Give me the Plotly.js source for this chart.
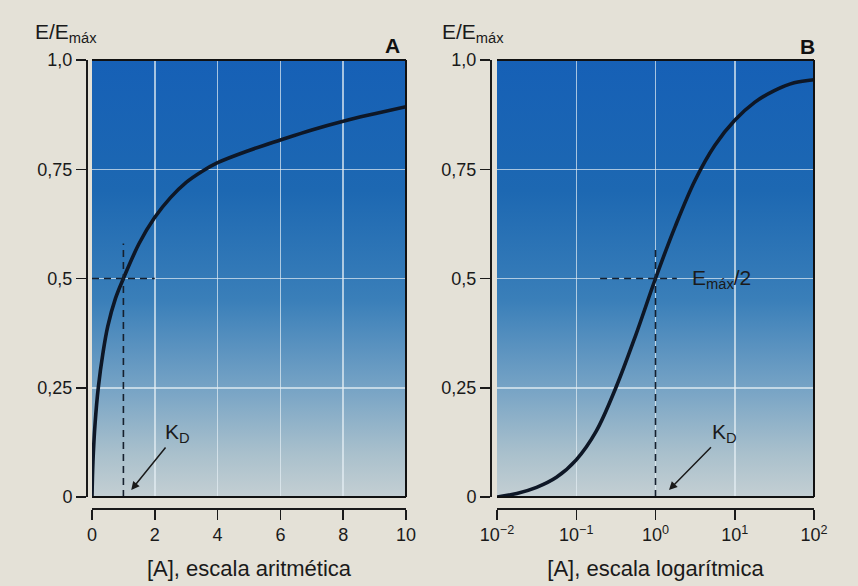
<!DOCTYPE html>
<html>
<head>
<meta charset="utf-8">
<script src="https://cdn.plot.ly/plotly-3.0.1.min.js"></script>
<style>html,body{margin:0;padding:0;background:#e4e1d7;}#chart{width:858px;height:586px;}</style>
</head>
<body>
<div id="chart"></div>
<script>
// ---- Data ----
// Panel A: arithmetic scale
const concA = [0, 0.03, 0.1, 0.2, 0.35, 0.5, 0.75, 1, 1.5, 2, 2.5, 3, 3.5, 4, 5, 6, 7, 8, 9, 10];
const effA  = [0, 0.08, 0.17, 0.25, 0.33, 0.39, 0.455, 0.50, 0.58, 0.64, 0.685, 0.72, 0.745, 0.765, 0.793, 0.817, 0.84, 0.86, 0.877, 0.893];
// Panel B: logarithmic scale
const concB = [0.01, 0.0178, 0.0316, 0.0562, 0.1, 0.178, 0.316, 0.562, 1, 1.78, 3.16, 5.62, 10, 17.8, 31.6, 56.2, 100];
const effB  = [0, 0.008, 0.022, 0.045, 0.085, 0.15, 0.25, 0.37, 0.50, 0.62, 0.725, 0.805, 0.862, 0.903, 0.93, 0.948, 0.955];
// Reference lines (K_D and E_max/2)
const kd = 1;
const halfEffect = 0.5;
const kdLineTopA = 0.58;
const kdLineTopB = 0.57;
const halfLineA = [0, 2];
const halfLineB = [0.2, 1.86];
// Ticks
const yTickVals = [0, 0.25, 0.5, 0.75, 1];
const yTickText = ['0', '0,25', '0,5', '0,75', '1,0'];
const xTickValsA = [0, 2, 4, 6, 8, 10];
const xTickValsB = [0.01, 0.1, 1, 10, 100];
const xTickTextB = ['10<sup>−2</sup>', '10<sup>−1</sup>', '10<sup>0</sup>', '10<sup>1</sup>', '10<sup>2</sup>'];
const yLabel = 'E/E<sub>máx</sub>';
const xTitleA = '[A], escala aritmética';
const xTitleB = '[A], escala logarítmica';

// ---- Layout helpers ----
const W = 858, H = 586;
const px = v => v / W;
const py = v => 1 - v / H;
const FONT = 'Liberation Sans, Arial, Helvetica, sans-serif';
const INK = '#1a1a1a';
const curveColor = '#0e1726';
const gridColor = 'rgba(228,238,244,0.7)';

const svgGrad = '<svg xmlns="http://www.w3.org/2000/svg" width="100" height="100" viewBox="0 0 100 100" preserveAspectRatio="none">' +
  '<defs><linearGradient id="g" x1="0" y1="0" x2="0" y2="1">' +
  '<stop offset="0" stop-color="#1660b6"/>' +
  '<stop offset="0.3" stop-color="#1d68b2"/>' +
  '<stop offset="0.55" stop-color="#3a7fb9"/>' +
  '<stop offset="0.75" stop-color="#76a3c5"/>' +
  '<stop offset="0.9" stop-color="#a9c0cc"/>' +
  '<stop offset="1" stop-color="#c4cfd3"/>' +
  '</linearGradient></defs><rect x="0" y="0" width="100" height="100" fill="url(#g)"/></svg>';
const gradSrc = 'data:image/svg+xml;charset=utf-8,' + encodeURIComponent(svgGrad);

const dashStyle = {color: '#16202e', width: 1.6, dash: '7px,5px'};

const traces = [
  {x: concA, y: effA, xaxis: 'x', yaxis: 'y', mode: 'lines', line: {color: curveColor, width: 3.6, shape: 'spline', smoothing: 1}, hoverinfo: 'skip'},
  {x: [kd, kd], y: [0, kdLineTopA], xaxis: 'x', yaxis: 'y', mode: 'lines', line: dashStyle, hoverinfo: 'skip'},
  {x: halfLineA, y: [halfEffect, halfEffect], xaxis: 'x', yaxis: 'y', mode: 'lines', line: dashStyle, hoverinfo: 'skip'},
  {x: concB, y: effB, xaxis: 'x2', yaxis: 'y2', mode: 'lines', line: {color: curveColor, width: 3.6, shape: 'spline', smoothing: 1}, hoverinfo: 'skip'},
  {x: [kd, kd], y: [0, kdLineTopB], xaxis: 'x2', yaxis: 'y2', mode: 'lines', line: dashStyle, hoverinfo: 'skip'},
  {x: halfLineB, y: [halfEffect, halfEffect], xaxis: 'x2', yaxis: 'y2', mode: 'lines', line: dashStyle, hoverinfo: 'skip'}
];

const yDom = [py(497), py(60)];
const xAxisPos = py(508);
const tickFont = {family: FONT, size: 18, color: INK};
const titleFont = {family: FONT, size: 22, color: INK};
const labelFont = {family: FONT, size: 21, color: INK};

function xAxisBase(domain) {
  return {
    domain: domain, anchor: 'free', position: xAxisPos,
    showline: true, linecolor: INK, linewidth: 1.5,
    ticks: 'outside', ticklen: 10, tickwidth: 1.5, tickcolor: INK,
    showgrid: true, gridcolor: gridColor, gridwidth: 1.5,
    zeroline: false, tickfont: tickFont, fixedrange: true
  };
}
function yAxisBase(xpos) {
  return {
    domain: yDom, anchor: 'free', position: xpos, range: [0, 1],
    tickvals: yTickVals, ticktext: yTickText,
    showline: true, linecolor: INK, linewidth: 1.5,
    ticks: 'outside', ticklen: 10, tickwidth: 1.5, tickcolor: INK,
    showgrid: true, gridcolor: gridColor, gridwidth: 1.5,
    zeroline: false, tickfont: tickFont, fixedrange: true
  };
}

const xaxis = Object.assign(xAxisBase([px(92), px(406)]), {
  range: [0, 10], tickvals: xTickValsA,
  title: {text: xTitleA, font: titleFont, standoff: 16}
});
const xaxis2 = Object.assign(xAxisBase([px(497), px(814)]), {
  type: 'log', range: [-2, 2], tickvals: xTickValsB, ticktext: xTickTextB,
  title: {text: xTitleB, font: titleFont, standoff: 16}
});
const yaxis = yAxisBase(px(86));
const yaxis2 = yAxisBase(px(490));

function boxShapes(xr, yr) {
  const ln = {color: '#111', width: 2};
  return [
    {type: 'line', xref: xr + ' domain', yref: yr + ' domain', x0: 0, x1: 1, y0: 1, y1: 1, line: ln},
    {type: 'line', xref: xr + ' domain', yref: yr + ' domain', x0: 1, x1: 1, y0: 0, y1: 1, line: ln},
    {type: 'line', xref: xr + ' domain', yref: yr + ' domain', x0: 0, x1: 1, y0: 0, y1: 0, line: ln}
  ];
}

const annotations = [
  {xref: 'paper', yref: 'paper', x: px(33), y: py(33), xanchor: 'left', yanchor: 'middle', text: yLabel, showarrow: false, font: labelFont},
  {xref: 'paper', yref: 'paper', x: px(440), y: py(33), xanchor: 'left', yanchor: 'middle', text: yLabel, showarrow: false, font: labelFont},
  {xref: 'paper', yref: 'paper', x: px(392), y: py(45), xanchor: 'center', yanchor: 'middle', text: '<b>A</b>', showarrow: false, font: {family: FONT, size: 21, color: '#111'}},
  {xref: 'paper', yref: 'paper', x: px(807), y: py(46), xanchor: 'center', yanchor: 'middle', text: '<b>B</b>', showarrow: false, font: {family: FONT, size: 21, color: '#111'}},
  {xref: 'x', yref: 'y', x: 1.25, y: 0.016, text: 'K<sub>D</sub>', showarrow: true, ax: 46, ay: -57, arrowhead: 2, arrowsize: 1.1, arrowwidth: 1.5, arrowcolor: '#1a1a1a', standoff: 0, font: labelFont},
  {xref: 'x2', yref: 'y2', x: 0.17, y: 0.016, text: 'K<sub>D</sub>', showarrow: true, ax: 56, ay: -57, arrowhead: 2, arrowsize: 1.1, arrowwidth: 1.5, arrowcolor: '#1a1a1a', standoff: 0, font: labelFont},
  {xref: 'x2', yref: 'y2', x: 0.83, y: halfEffect, xanchor: 'center', yanchor: 'middle', text: 'E<sub>máx</sub>/2', showarrow: false, font: labelFont}
];

const layout = {
  width: W, height: H,
  margin: {l: 0, r: 0, t: 0, b: 0},
  paper_bgcolor: '#e4e1d7',
  plot_bgcolor: 'rgba(0,0,0,0)',
  showlegend: false,
  font: {family: FONT, color: INK},
  xaxis: xaxis, yaxis: yaxis, xaxis2: xaxis2, yaxis2: yaxis2,
  images: [
    {source: gradSrc, xref: 'x domain', yref: 'y domain', x: 0, y: 1, sizex: 1, sizey: 1, xanchor: 'left', yanchor: 'top', sizing: 'stretch', layer: 'below'},
    {source: gradSrc, xref: 'x2 domain', yref: 'y2 domain', x: 0, y: 1, sizex: 1, sizey: 1, xanchor: 'left', yanchor: 'top', sizing: 'stretch', layer: 'below'}
  ],
  shapes: boxShapes('x', 'y').concat(boxShapes('x2', 'y2')),
  annotations: annotations
};

Plotly.newPlot('chart', traces, layout, {staticPlot: true, displayModeBar: false});
</script>
</body>
</html>
